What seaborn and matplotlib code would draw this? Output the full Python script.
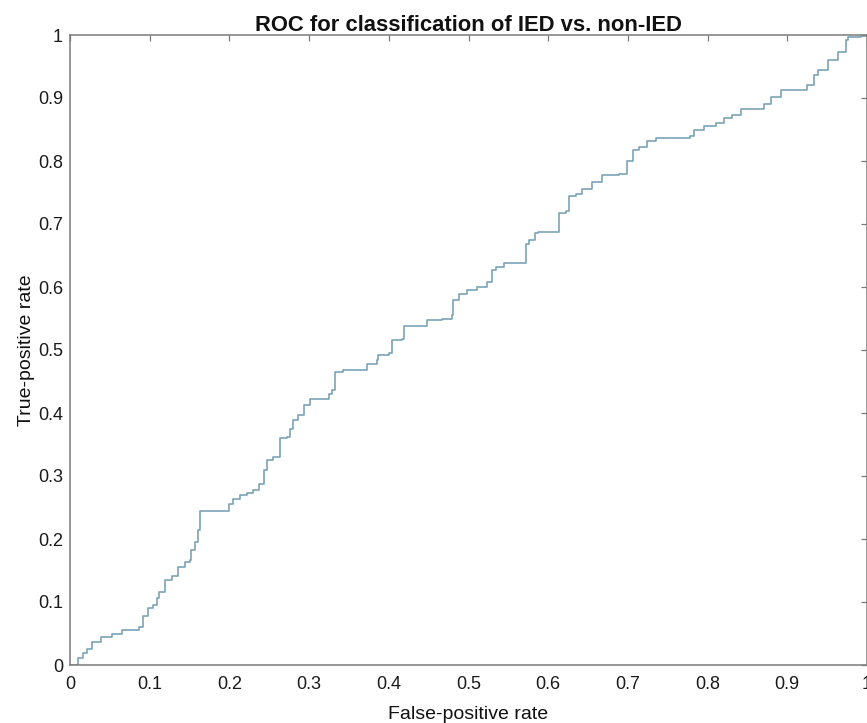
import numpy as np
import pandas as pd
import seaborn as sns
import matplotlib
matplotlib.use("Agg")
import matplotlib.pyplot as plt

fpr = [0.0, 0.0105, 0.0167, 0.021, 0.027, 0.039, 0.0524, 0.065, 0.0867, 0.092,
       0.0975, 0.1047, 0.109, 0.112, 0.119, 0.128, 0.136, 0.1445, 0.151, 0.152,
       0.157, 0.160, 0.163, 0.199, 0.205, 0.2136, 0.222, 0.230, 0.237, 0.243,
       0.247, 0.255, 0.264, 0.272, 0.276, 0.28, 0.2865, 0.293, 0.3015, 0.3245,
       0.329, 0.333, 0.343, 0.373, 0.385, 0.387, 0.4, 0.404, 0.417, 0.419,
       0.448, 0.467, 0.4795, 0.481, 0.488, 0.498, 0.511, 0.523, 0.53, 0.534,
       0.544, 0.5716, 0.576, 0.584, 0.587, 0.6135, 0.622, 0.626, 0.6344, 0.643,
       0.655, 0.668, 0.689, 0.699, 0.707, 0.714, 0.7245, 0.735, 0.778, 0.783,
       0.796, 0.81, 0.821, 0.831, 0.842, 0.867, 0.871, 0.879, 0.892, 0.915,
       0.925, 0.934, 0.938, 0.9506, 0.963, 0.974, 0.9757, 0.992, 1.0]
tpr = [0.0, 0.0106, 0.0185, 0.026, 0.037, 0.045, 0.049, 0.056, 0.061, 0.078,
       0.091, 0.095, 0.106, 0.116, 0.135, 0.141, 0.156, 0.164, 0.167, 0.183,
       0.196, 0.214, 0.245, 0.255, 0.263, 0.27, 0.2735, 0.278, 0.287, 0.31,
       0.325, 0.33, 0.36, 0.3625, 0.375, 0.389, 0.397, 0.413, 0.423, 0.43,
       0.437, 0.465, 0.469, 0.478, 0.484, 0.492, 0.495, 0.516, 0.518, 0.538,
       0.548, 0.55, 0.556, 0.579, 0.589, 0.595, 0.6, 0.608, 0.627, 0.632,
       0.638, 0.669, 0.674, 0.685, 0.688, 0.717, 0.72, 0.744, 0.748, 0.756,
       0.767, 0.778, 0.78, 0.80, 0.817, 0.823, 0.831, 0.837, 0.839, 0.849,
       0.855, 0.86, 0.868, 0.873, 0.882, 0.883, 0.891, 0.901, 0.912, 0.913,
       0.921, 0.937, 0.944, 0.96, 0.973, 0.992, 0.997, 0.998, 1.0]

tick_vals = [0, 0.1, 0.2, 0.3, 0.4, 0.5, 0.6, 0.7, 0.8, 0.9, 1]
tick_labels = ["0", "0.1", "0.2", "0.3", "0.4", "0.5", "0.6", "0.7", "0.8", "0.9", "1"]

title = "ROC for classification of IED vs. non-IED"
xlabel = "False-positive rate"
ylabel = "True-positive rate"

sns.set_theme(style="white")
plt.rcParams['font.family'] = ['Liberation Sans', 'DejaVu Sans']

fig = plt.figure(figsize=(8.67, 7.23), dpi=100)
ax = fig.add_axes([70 / 867, 58 / 723, 797 / 867, 630 / 723])

df = pd.DataFrame({"fpr": fpr, "tpr": tpr})
sns.lineplot(data=df, x="fpr", y="tpr", sort=False, estimator=None,
             drawstyle="steps-post", color="#7aa3b8", linewidth=1.2, ax=ax)

ax.set_xlim(0, 1)
ax.set_ylim(0, 1)
ax.set_xticks(tick_vals)
ax.set_xticklabels(tick_labels)
ax.set_yticks(tick_vals)
ax.set_yticklabels(tick_labels)

spine_col = "#7a7a7a"
for s in ax.spines.values():
    s.set_visible(True)
    s.set_color(spine_col)
    s.set_linewidth(1.1)

ax.tick_params(axis="both", which="both", direction="in", length=4.5, width=0.9,
               color=spine_col, labelsize=13, labelcolor="#1a1a1a",
               top=True, right=True)
ax.tick_params(axis="x", pad=8)
ax.tick_params(axis="y", pad=5)

ax.set_title(title, fontsize=15.8, fontweight="bold", pad=3, color="#111111")
ax.set_xlabel(xlabel, fontsize=14, color="#111111", labelpad=9)
ax.set_ylabel(ylabel, fontsize=14, color="#111111", labelpad=2)
ax.grid(False)

fig.savefig("out.png", dpi=100, facecolor="white")
